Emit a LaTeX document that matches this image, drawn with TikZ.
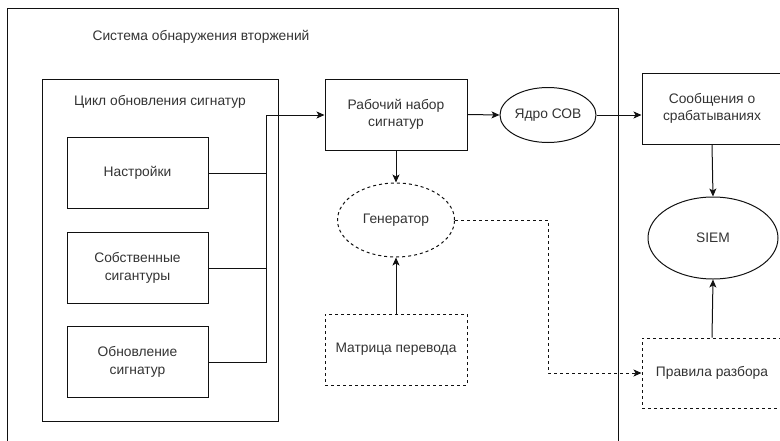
\documentclass[tikz,border=0pt]{standalone}
\usepackage{fontspec}
\setmainfont{Liberation Sans}
\usetikzlibrary{arrows.meta,shapes.geometric}
\definecolor{txt}{HTML}{333333}
\definecolor{ln}{HTML}{111111}
\begin{document}
\begin{tikzpicture}[x=1pt,y=-1pt,line width=1pt,
  every node/.style={text=txt,font=\fontsize{13.8}{17.5}\selectfont},
  box/.style={draw=ln,rectangle,inner sep=0pt,align=center,minimum width=#1},
  box/.default=141pt,
  oval/.style={draw=ln,ellipse,inner sep=0pt,align=center},
  dsh/.style={dash pattern=on 3pt off 3pt},
  arr/.style={draw=ln,-{Stealth[length=8pt,width=7pt,inset=2pt]}},
  conn/.style={draw=ln}]
\useasboundingbox (0,0) rectangle (780,440);
\begin{scope}
\clip (0,0) rectangle (780,440);
% containers
\node (outer) [draw=ln,rectangle,anchor=north west,inner sep=0pt,minimum width=611pt,minimum height=470pt] at (7,8) {};
\node (title) at (201,37) {Система обнаружения вторжений};
\node (cycle) [draw=ln,rectangle,anchor=north west,inner sep=0pt,minimum width=236pt,minimum height=342pt] at (42,79) {};
\node (cycletitle) at (160,102) {Цикл обновления сигнатур};
% inner boxes
\node (nastr) [box,minimum height=71pt] at (137.5,173) {Настройки};
\node (sobst) [box,minimum height=71pt] at (137.5,268) {Собственные\\сигантуры};
\node (obnov) [box,minimum height=71pt] at (137.5,362) {Обновление\\сигнатур};
\coordinate (bus) at (266,115);
% main chain
\node (work) [box=142pt,minimum height=71pt] at (396,114.5) {Рабочий набор\\сигнатур};
\node (core) [oval,minimum width=96pt,minimum height=55pt] at (548,115) {Ядро СОВ};
\node (msg) [box=140pt,minimum height=71pt] at (712,108.5) {Сообщения о\\срабатываниях};
\node (siem) [oval,minimum width=130pt,minimum height=82pt] at (713,238) {SIEM};
\node (gen) [oval,dsh,minimum width=117pt,minimum height=74pt] at (396,220) {Генератор};
\node (matrix) [box=142pt,dsh,minimum height=71pt] at (396,349.5) {Матрица перевода};
\node (rules) [box=140pt,dsh,minimum height=70pt] at (712,373) {Правила разбора};
\coordinate (bend) at (548,220);
% connectors
\draw[conn] (nastr.east) -- (nastr.east -| bus);
\draw[conn] (sobst.east) -- (sobst.east -| bus);
\draw[arr] (obnov.east) -| (bus) -- (bus -| work.west);
\draw[arr] (work.east) -- (core.west);
\draw[arr] (core.east) -- (core.east -| msg.west);
\draw[arr] (msg.south) -- (siem.north);
\draw[arr] (rules.north) -- (siem.south);
\draw[arr] (work.south) -- (gen.north);
\draw[arr] (matrix.north) -- (gen.south);
\draw[arr,dsh] (gen.east) -- (bend) |- (rules.west);
\end{scope}
\end{tikzpicture}
\end{document}
